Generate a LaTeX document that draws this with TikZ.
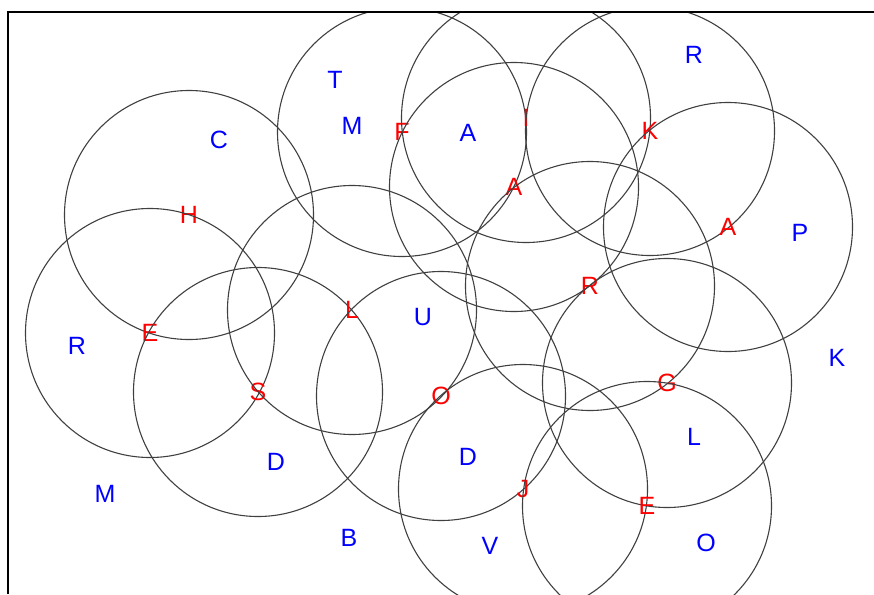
\documentclass[tikz,border=0pt]{standalone}
\usepackage{fontspec}
\setmainfont{Liberation Sans}
\begin{document}
\begin{tikzpicture}[x=1pt,y=-1pt,
    ring/.style={circle,draw=black!75,line width=1.1pt,minimum size=249pt,inner sep=0pt,text=red,font=\fontsize{25}{30}\selectfont},
    letter/.style={text=blue,inner sep=0pt,font=\fontsize{25}{30}\selectfont}]
    \useasboundingbox (0,0) rectangle (874,594);
    \begin{scope}
        \clip (8,12.5) rectangle (874,594);
        % circles, the red letter sits at each centre
        \node[ring] (h) at (189,215) {H};
        \node[ring] (e1) at (150,333) {E};
        \node[ring] (s) at (258,392) {S};
        \node[ring] (l) at (352,310) {L};
        \node[ring] (f) at (402,132) {F};
        \node[ring] (i) at (526,118) {I};
        \node[ring] (k) at (650,131) {K};
        \node[ring] (a1) at (514,187) {A};
        \node[ring] (a2) at (728,227) {A};
        \node[ring] (r) at (590,286) {R};
        \node[ring] (g) at (667,383) {G};
        \node[ring] (o) at (441,396) {O};
        \node[ring] (j) at (523,489) {J};
        \node[ring] (e2) at (647,506) {E};
        % blue letters
        \node[letter] (c) at (219,140) {C};
        \node[letter] (t) at (335,80) {T};
        \node[letter] (m1) at (352,126) {M};
        \node[letter] (a3) at (468,133) {A};
        \node[letter] (r1) at (694,55) {R};
        \node[letter] (p) at (800,233) {P};
        \node[letter] (r2) at (77,346) {R};
        \node[letter] (u) at (423,317) {U};
        \node[letter] (k2) at (837,358) {K};
        \node[letter] (d1) at (276,462) {D};
        \node[letter] (d2) at (468,457) {D};
        \node[letter] (l2) at (694,437) {L};
        \node[letter] (m2) at (105,494) {M};
        \node[letter] (b) at (349,538) {B};
        \node[letter] (v) at (490,546) {V};
        \node[letter] (o2) at (706,543) {O};
    \end{scope}
    \draw[line width=2pt] (8,594) |- (874,12.5);
\end{tikzpicture}
\end{document}
